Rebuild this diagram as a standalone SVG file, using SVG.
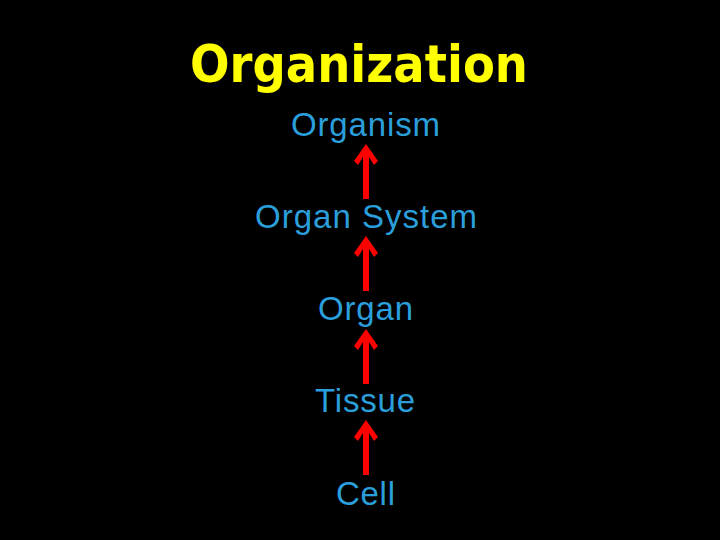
<svg xmlns="http://www.w3.org/2000/svg" xmlns:xlink="http://www.w3.org/1999/xlink" width="720" height="540" viewBox="0 0 720 540">
<style>
.title{font-family:"DejaVu Sans",Verdana,sans-serif;font-weight:bold;font-size:51px;fill:#FFFF00}
.lbl{font-family:"Liberation Sans",Arial,sans-serif;font-size:33px;fill:#2A9FDB}
.arr{fill:#FF0000}
</style>
<defs>
<path id="arrow" d="M366,0 L378,17 L374,21 L369,13 L369,55 L363,55 L363,13 L358,21 L354,17 Z"/>
</defs>
<rect x="0" y="0" width="720" height="540" fill="#000000"/>
<g id="title"><text class="title" x="190" y="82" textLength="338" lengthAdjust="spacingAndGlyphs">Organization</text></g>
<g id="organism"><text class="lbl" x="291" y="136" textLength="149" lengthAdjust="spacing">Organism</text></g>
<g id="organ-system"><text class="lbl" x="255" y="228" textLength="222" lengthAdjust="spacing">Organ System</text></g>
<g id="organ"><text class="lbl" x="318" y="320" textLength="95" lengthAdjust="spacing">Organ</text></g>
<g id="tissue"><text class="lbl" x="315" y="412" textLength="100" lengthAdjust="spacing">Tissue</text></g>
<g id="cell"><text class="lbl" x="336" y="505" textLength="59" lengthAdjust="spacing">Cell</text></g>
<g id="connectors" class="arr">
<use xlink:href="#arrow" transform="translate(0,144)"/>
<use xlink:href="#arrow" transform="translate(0,236)"/>
<use xlink:href="#arrow" transform="translate(0,329)"/>
<use xlink:href="#arrow" transform="translate(0,420)"/>
</g>
</svg>
